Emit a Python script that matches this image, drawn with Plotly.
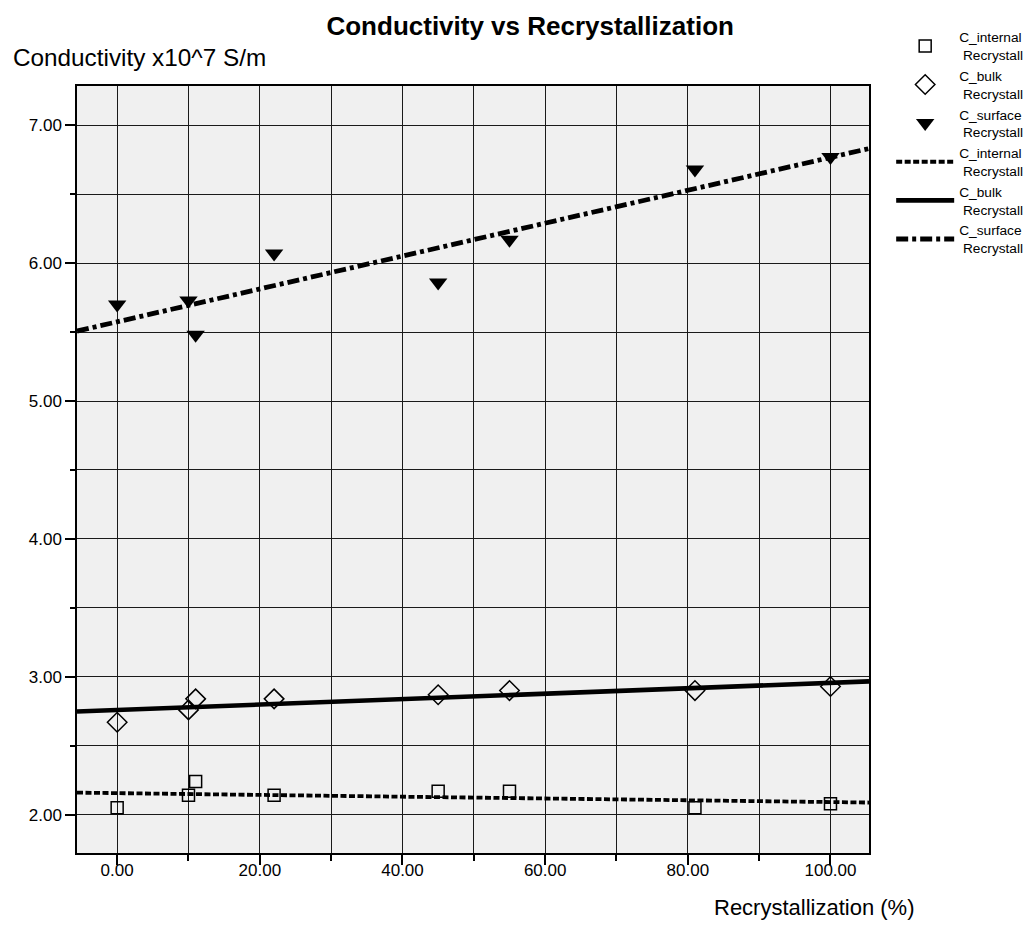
import numpy as np
import plotly.graph_objects as go

# ---- data ----
recryst = [0, 10, 11, 22, 45, 55, 81, 100]
c_internal = [2.05, 2.14, 2.24, 2.14, 2.17, 2.17, 2.05, 2.08]
c_bulk = [2.67, 2.76, 2.84, 2.84, 2.87, 2.90, 2.90, 2.93]
c_surface = [5.70, 5.73, 5.48, 6.07, 5.86, 6.17, 6.68, 6.77]

x_ticks = [0, 20, 40, 60, 80, 100]
x_ticklabels = ["0.00", "20.00", "40.00", "60.00", "80.00", "100.00"]
y_ticks = [2, 3, 4, 5, 6, 7]
y_ticklabels = ["2.00", "3.00", "4.00", "5.00", "6.00", "7.00"]

x_range = [-5.63, 105.4]
y_range = [1.722, 7.285]

FONT = "Liberation Sans, Arial, sans-serif"

def leg(name):
    return name + "<br>\u00a0Recrystall"

fig = go.Figure()

marker_series = [
    (c_internal, "C_internal", dict(symbol="square-open", size=12, color="black", line=dict(width=1.5, color="black"))),
    (c_bulk, "C_bulk", dict(symbol="diamond-open", size=15, color="black", line=dict(width=1.5, color="black"))),
    (c_surface, "C_surface", dict(symbol="triangle-down", size=16, color="black", line=dict(width=0))),
]
for ys, nm, mk in marker_series:
    fig.add_trace(go.Scatter(x=recryst, y=ys, mode="markers", name=leg(nm), marker=mk))

line_series = [
    (c_internal, "C_internal", dict(color="black", width=3.8, dash="6px,2.5px")),
    (c_bulk, "C_bulk", dict(color="black", width=4.6)),
    (c_surface, "C_surface", dict(color="black", width=4.8, dash="12px,4px,4px,4px")),
]
xf = np.array(x_range)
for ys, nm, ln in line_series:
    slope, icpt = np.polyfit(recryst, ys, 1)
    fig.add_trace(go.Scatter(x=xf, y=slope * xf + icpt, mode="lines", name=leg(nm), line=ln))

axis_common = dict(
    showline=True, linecolor="black", linewidth=1.5, mirror=True,
    ticks="outside", ticklen=10, tickwidth=1.5, tickcolor="black",
    showgrid=True, gridcolor="#1a1a1a", gridwidth=1.3,
    zeroline=False,
    tickfont=dict(family=FONT, size=17, color="black"),
)

fig.update_xaxes(
    range=x_range, tickvals=x_ticks, ticktext=x_ticklabels,
    ticklabelstandoff=-9,
    minor=dict(dtick=10, tick0=0, ticks="outside", ticklen=6, tickwidth=1.5, tickcolor="black",
               showgrid=True, gridcolor="#1a1a1a", gridwidth=1.3),
    **axis_common,
)
fig.update_yaxes(
    range=y_range, tickvals=y_ticks, ticktext=y_ticklabels,
    minor=dict(dtick=0.5, tick0=0, ticks="outside", ticklen=5, tickwidth=1.5, tickcolor="black",
               showgrid=True, gridcolor="#1a1a1a", gridwidth=1.3),
    **axis_common,
)

fig.update_layout(
    width=1032, height=943,
    margin=dict(l=69, r=159, t=78, b=98),
    paper_bgcolor="white", plot_bgcolor="#f0f0f0",
    font=dict(family=FONT, color="black"),
    title=dict(text="<b>Conductivity vs Recrystallization</b>", x=0.506, xanchor="center",
               y=0.981, yanchor="middle", font=dict(family=FONT, size=26, color="black")),
    legend=dict(x=1.028, xanchor="left", y=1.084, yanchor="top",
                font=dict(family=FONT, size=13.7, color="black"),
                bgcolor="rgba(0,0,0,0)", itemwidth=58, tracegroupgap=0),
    showlegend=True,
    annotations=[
        dict(text="Conductivity x10^7 S/m", xref="paper", yref="paper", x=-0.0833, y=1.0378,
             xanchor="left", yanchor="middle", showarrow=False,
             font=dict(family=FONT, size=24.3, color="black")),
        dict(text="Recrystallization (%)", xref="paper", yref="paper", x=1.060, y=-0.0717,
             xanchor="right", yanchor="middle", showarrow=False,
             font=dict(family=FONT, size=22, color="black")),
    ],
)

fig.write_html("out.html")
